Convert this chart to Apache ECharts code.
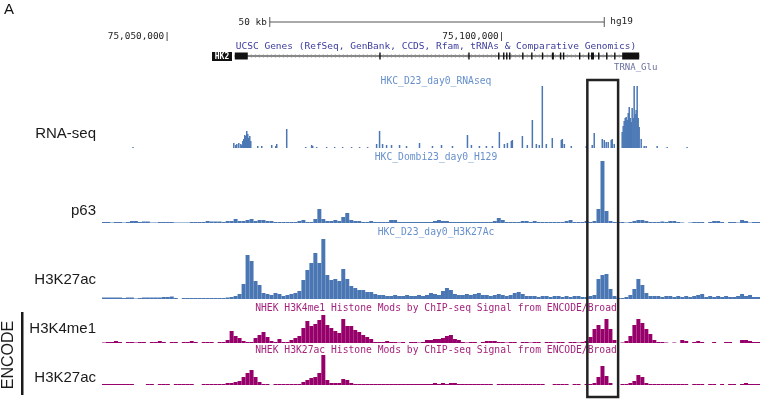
<!DOCTYPE html>
<html>
<head>
<meta charset="utf-8">
<script src="https://cdn.jsdelivr.net/npm/echarts@6/dist/echarts.min.js"></script>
<style>
  html, body { margin: 0; padding: 0; background: #fff; }
  #main { width: 760px; height: 400px; }
</style>
</head>
<body>
<div id="main"></div>
<script>
// browser window on chr10 (hg19), in kb
const viewStartKb = 75039.85;
const viewEndKb = 75138.21;
const rulerTicksKb = [75050, 75100];
const scaleBarKb = [75064.93, 75114.93];
const scaleBarLabel = "50 kb";
const highlightKb = [75112.4, 75117.0];

// HK2 gene model
const geneSpanKb = [75059.70, 75120.15];
const exonsKb = [
  [75059.70, 75061.64], [75081.30, 75081.45], [75094.60, 75094.75], [75099.05, 75099.20],
  [75099.80, 75099.95], [75100.25, 75100.40], [75100.70, 75100.85], [75102.65, 75102.80],
  [75104.00, 75104.15], [75105.60, 75105.80], [75107.10, 75107.40], [75108.30, 75108.45],
  [75108.75, 75108.90], [75111.15, 75111.30], [75112.50, 75112.65], [75112.95, 75113.40],
  [75114.00, 75114.15], [75115.20, 75115.35], [75116.40, 75116.55], [75117.61, 75120.15]
];

// RNA-seq coverage spikes (position kb, signal)
const rnaPosKb = [75044.48,
  75059.55, 75059.85, 75060.00, 75060.30, 75060.60, 75060.75, 75060.90, 75061.04, 75061.19, 75061.34,
  75061.49, 75061.64, 75061.79, 75061.94, 75062.09,
  75063.13, 75063.73, 75065.22, 75065.82, 75065.97, 75067.46,
  75070.30, 75071.19, 75071.34, 75071.94, 75073.43, 75074.63, 75075.82, 75077.16, 75078.36, 75079.55,
  75080.90, 75081.34, 75081.79, 75082.39, 75083.13, 75084.33, 75085.37, 75087.31, 75089.25, 75090.60, 75092.24,
  75094.48, 75095.07, 75096.27, 75097.31, 75098.21, 75099.25,
  75100.00, 75100.45, 75101.04, 75101.19, 75102.69, 75103.43, 75104.18, 75104.78, 75105.22, 75105.67, 75106.27, 75107.16,
  75108.51, 75108.66, 75108.96, 75110.00,
  75112.24, 75113.13, 75113.43, 75114.63, 75114.93, 75115.22, 75115.52, 75115.97, 75116.12, 75116.42,
  75117.61, 75117.76, 75117.91, 75118.06, 75118.21, 75118.36, 75118.51, 75118.66, 75118.81, 75118.96,
  75119.10, 75119.25, 75119.40, 75119.55, 75119.70, 75119.85, 75120.00, 75120.15,
  75120.45, 75120.90, 75121.19, 75122.84, 75124.33, 75127.31];
const rnaValues = [1,
  5, 3, 4, 5, 4, 3, 7, 9, 13, 12, 17, 14, 10, 12, 7,
  2, 2, 3, 2, 4, 19,
  1, 3, 2, 1, 1, 1, 1, 1, 1, 1,
  4, 17, 4, 3, 3, 3, 2, 5, 2, 3, 2,
  13, 3, 2, 2, 2, 16,
  4, 5, 7, 8, 12, 3, 28, 4, 3, 62, 4, 10,
  8, 9, 4, 2,
  2, 3, 15, 9, 8, 6, 6, 8, 9, 4,
  16, 22, 27, 30, 31, 28, 35, 41, 30, 26, 40, 30, 62, 34, 38, 62, 30, 21,
  9, 2, 2, 2, 1, 1];

// binned ChIP-seq signal, 165 equal bins across the window
const p63Values = [
  1, 1, 0.5, 1, 1, 0.5, 1, 2, 2, 1,
  1.5, 1.5, 0.5, 0.5, 1, 1, 1, 1, 0.5, 0.5,
  0.5, 0.5, 1, 1, 1, 1, 2, 1.5, 1.5, 1.5,
  1, 2, 2, 4, 2, 2, 3, 4, 2, 3,
  3, 2, 2, 1, 1, 1, 1, 1, 1, 2,
  3, 1, 1, 4, 14, 4, 2, 2, 3, 2,
  6, 10, 3, 2, 2, 1, 1, 2, 1, 1,
  1, 1, 3, 3, 1, 1, 1, 1, 1, 1,
  1, 1, 1, 2, 3, 2, 2, 1, 1, 1,
  1, 1, 1, 1, 1, 1, 1, 1, 2, 5,
  3, 1, 1, 1, 1, 2, 2, 1, 2, 1,
  1, 1, 1, 1, 1, 1, 2, 3, 1, 1,
  1, 2, 1, 2, 14, 62, 12, 2, 1, 1,
  1, 0.5, 1, 2, 3, 3, 2, 1, 1, 1,
  1.5, 1, 2, 2, 1, 0.5, 0, 0.5, 1, 1,
  1, 0, 1, 2, 2, 1, 0, 1, 1, 0.5,
  3, 2, 0.5, 1, 1];
const h3k27acValues = [
  1.5, 1.5, 1.5, 1.5, 1.5, 1, 1.5, 1.5, 0.5, 1,
  1.5, 1.5, 1.5, 1.5, 1.5, 2, 2, 2.5, 1, 0,
  1, 1, 1, 1, 1, 1, 1, 1, 1, 1,
  1, 1.5, 2, 3, 5, 15, 44, 38, 18, 14,
  6, 5, 4, 6, 5, 3, 4, 5, 6, 8,
  19, 29, 36, 46, 36, 60, 24, 19, 20, 18,
  30, 20, 13, 11, 9, 9, 7, 7, 5, 4,
  4, 3, 3, 4, 3, 3, 4, 3, 3, 4,
  3, 4, 6, 5, 4, 8, 11, 9, 5, 4,
  4, 5, 4, 5, 6, 4, 4, 3, 4, 5,
  4, 3, 4, 6, 7, 5, 3, 3, 3, 2,
  3, 3, 2, 3, 3, 2, 3, 2, 3, 3,
  2, 2, 3, 4, 20, 24, 25, 10, 3, 1,
  1, 2, 4, 10, 20, 14, 6, 3, 3, 3,
  2, 3, 3, 2, 3, 2, 3, 2, 3, 4,
  5, 2, 3, 2, 3, 2, 3, 2, 2, 3,
  5, 3, 4, 2, 2];
const nhekH3k4me1Values = [
  0.5, 1, 1, 2, 1, 0, 1, 1, 0.5, 1,
  1, 0, 1, 1, 2, 1, 0, 1, 1, 0,
  1, 1, 2, 1, 0, 1, 1, 1, 0, 1,
  1, 3, 12, 7, 5, 2, 1, 1, 5, 8,
  11, 6, 2, 1, 4, 1, 1, 3, 5, 7,
  15, 22, 17, 19, 23, 28, 18, 15, 12, 10,
  24, 17, 17, 13, 11, 8, 6, 4, 1, 1,
  1, 2, 1, 1, 0.5, 1, 0, 1, 1, 0.5,
  1, 3, 3, 4, 4, 5, 7, 8, 4, 3,
  1, 0.5, 1, 1, 0, 1, 2, 2, 2, 1,
  1, 0.5, 1, 1, 0, 1, 1, 0.5, 1, 1,
  0, 1, 1, 0.5, 1, 1, 0, 1, 1, 0.5,
  1, 2, 6, 14, 18, 14, 24, 14, 3, 0,
  0.5, 2, 7, 18, 24, 20, 14, 9, 3, 1,
  1, 0.5, 0, 0.5, 0, 3, 2, 0, 1, 2,
  1, 0, 0, 1, 0, 0, 1, 1, 0, 0,
  3, 3, 2, 1, 1];
const nhekH3k27acValues = [
  1, 1, 1, 1, 1, 1, 1, 1, 0, 0,
  0, 1, 1, 0, 1, 1, 1, 0, 1, 1,
  1, 1, 1, 0, 0, 1, 1, 1, 1, 1,
  1, 2, 2, 3, 4, 8, 12, 15, 8, 3,
  1, 1, 0, 1, 1, 1, 1, 1, 1, 1,
  3, 5, 7, 8, 12, 30, 5, 2, 2, 2,
  6, 5, 2, 1, 1, 1, 1, 1, 1, 1,
  1, 1, 1, 1, 1, 1, 1, 1, 1, 1,
  1, 1, 1, 2, 1, 2, 1, 2, 2, 1,
  1, 1, 1, 1, 1, 1, 1, 1, 0, 1,
  1, 1, 1, 1, 1, 1, 1, 1, 1, 1,
  1, 0, 0, 1, 1, 1, 1, 0, 1, 1,
  0, 1, 1, 2, 8, 19, 9, 2, 0, 0,
  1, 1, 2, 4, 10, 8, 2, 1, 1, 1,
  1, 1, 1, 1, 1, 1, 1, 0, 1, 1,
  1, 0, 1, 1, 0, 1, 0, 1, 1, 0,
  1, 2, 1, 1, 1];
const bins = p63Values.map((v, i) => i);

const trackTitles = [
  "UCSC Genes (RefSeq, GenBank, CCDS, Rfam, tRNAs & Comparative Genomics)",
  "HKC_D23_day0_RNAseq",
  "HKC_Dombi23_day0_H129",
  "HKC_D23_day0_H3K27Ac",
  "NHEK H3K4me1 Histone Mods by ChIP-seq Signal from ENCODE/Broad",
  "NHEK H3K27ac Histone Mods by ChIP-seq Signal from ENCODE/Broad"
];
const trackLabels = ["RNA-seq", "p63", "H3K27ac", "H3K4me1", "H3K27ac"];

const BLUE = "#4a77b4";
const BLUE_TITLE = "#6790cb";
const MAGENTA = "#97006b";
const MAGENTA_TITLE = "#a5237c";
const MONO = "DejaVu Sans Mono, monospace";
const SANS = "Liberation Sans, Arial, sans-serif";

const chart = echarts.init(document.getElementById("main"), null, { renderer: "canvas" });

function kbAxis(grid, extra) {
  return Object.assign({
    type: "value", gridIndex: grid, min: viewStartKb, max: viewEndKb, show: false
  }, extra || {});
}
function binAxis(grid) {
  return { type: "category", gridIndex: grid, data: bins, show: false };
}
function yAxis(grid, min, max) {
  return { type: "value", gridIndex: grid, min: min, max: max, show: false };
}
function signalBar(idx, values, color) {
  return {
    type: "bar", xAxisIndex: idx, yAxisIndex: idx, data: values,
    barCategoryGap: "0%", barGap: "0%",
    itemStyle: { color: color }, silent: true
  };
}
function txt(text, x, y, align, font, color, rotation) {
  return {
    type: "text", x: x, y: y, rotation: rotation || 0, silent: true,
    style: {
      text: text, font: font, fill: color,
      align: align, textAlign: align, verticalAlign: "middle", textVerticalAlign: "middle"
    }
  };
}

const option = {
  animation: false,
  backgroundColor: "#fff",
  grid: [
    { left: 102, width: 660, top: 18, height: 8 },    // scale bar
    { left: 102, width: 660, top: 50, height: 12 },   // genes
    { left: 102, width: 660, top: 86, height: 62 },   // RNA-seq
    { left: 102, width: 660, top: 161, height: 62 },  // p63
    { left: 102, width: 660, top: 237, height: 62 },  // H3K27ac
    { left: 102, width: 660, top: 313, height: 30 },  // ENCODE H3K4me1
    { left: 102, width: 660, top: 355, height: 30 }   // ENCODE H3K27ac
  ],
  xAxis: [
    kbAxis(0),
    kbAxis(1, {
      show: true, position: "top",
      axisLine: { show: false }, axisTick: { show: false }, splitLine: { show: false },
      axisLabel: {
        customValues: rulerTicksKb, margin: 9, align: "right",
        color: "#222", fontFamily: MONO, fontSize: 9.4,
        formatter: (v) => Math.round(v * 1000).toLocaleString("en-US") + "|"
      }
    }),
    kbAxis(2),
    binAxis(3), binAxis(4), binAxis(5), binAxis(6)
  ],
  yAxis: [
    yAxis(0, -1, 1), yAxis(1, -1, 1),
    yAxis(2, 0, 62), yAxis(3, 0, 62), yAxis(4, 0, 62),
    yAxis(5, 0, 30), yAxis(6, 0, 30)
  ],
  series: [
    {
      // 50 kb scale bar
      type: "custom", xAxisIndex: 0, yAxisIndex: 0, silent: true,
      data: [scaleBarKb],
      renderItem: function (params, api) {
        const a = api.coord([api.value(0), 0]);
        const b = api.coord([api.value(1), 0]);
        const ln = { stroke: "#555", lineWidth: 1 };
        return {
          type: "group",
          children: [
            { type: "line", shape: { x1: a[0], y1: a[1], x2: b[0], y2: b[1] }, style: ln },
            { type: "line", shape: { x1: a[0], y1: a[1] - 5, x2: a[0], y2: a[1] + 5 }, style: ln },
            { type: "line", shape: { x1: b[0], y1: b[1] - 5, x2: b[0], y2: b[1] + 5 }, style: ln },
            txt(scaleBarLabel, a[0] - 3, a[1] + 1, "right", "9.4px " + MONO, "#222"),
            txt("hg19", b[0] + 6, b[1], "left", "9.4px " + MONO, "#222")
          ]
        };
      }
    },
    {
      // gene backbone
      type: "line", xAxisIndex: 1, yAxisIndex: 1, silent: true, symbol: "none", z: 2,
      data: [[geneSpanKb[0], 0], [geneSpanKb[1], 0]],
      lineStyle: { color: "#111", width: 1 }
    },
    {
      // intron direction hatching
      type: "line", xAxisIndex: 1, yAxisIndex: 1, silent: true, symbol: "none", z: 2,
      data: [[geneSpanKb[0], 0], [geneSpanKb[1], 0]],
      lineStyle: { color: "#8a8a8a", width: 3, type: [1, 3] }
    },
    {
      type: "custom", xAxisIndex: 1, yAxisIndex: 1, silent: true, z: 10,
      data: exonsKb,
      renderItem: function (params, api) {
        const a = api.coord([api.value(0), 0]);
        const b = api.coord([api.value(1), 0]);
        return {
          type: "rect",
          shape: { x: a[0], y: a[1] - 3.5, width: Math.max(b[0] - a[0], 1.4), height: 7 },
          style: { fill: "#111" }
        };
      }
    },
    {
      type: "bar", xAxisIndex: 2, yAxisIndex: 2, silent: true,
      data: rnaPosKb.map((p, i) => [p, rnaValues[i]]),
      barWidth: 1.5, itemStyle: { color: BLUE }
    },
    signalBar(3, p63Values, BLUE),
    signalBar(4, h3k27acValues, BLUE),
    signalBar(5, nhekH3k4me1Values, MAGENTA),
    signalBar(6, nhekH3k27acValues, MAGENTA)
  ]
};
chart.setOption(option);

// texts, labels and the highlighted region
const x0 = chart.convertToPixel({ xAxisIndex: 2 }, highlightKb[0]);
const x1 = chart.convertToPixel({ xAxisIndex: 2 }, highlightKb[1]);
const titleY = [47, 81, 157, 232, 308, 350];
const titleColor = ["#3d3d9e", BLUE_TITLE, BLUE_TITLE, BLUE_TITLE, MAGENTA_TITLE, MAGENTA_TITLE];
const labelY = [134, 211, 280, 329, 378];

const graphics = [txt("A", 4, 10, "left", "15px " + SANS, "#111")];
trackTitles.forEach((t, i) => {
  graphics.push(txt(t, 436, titleY[i], "center", (i === 0 ? "9.5px " : "9.7px ") + MONO, titleColor[i]));
});
trackLabels.forEach((t, i) => {
  graphics.push(txt(t, 96, labelY[i], "right", "15px " + SANS, "#1a1a1a"));
});
graphics.push(
  { type: "rect", silent: true, shape: { x: 212, y: 52, width: 20, height: 9 }, style: { fill: "#111" } },
  txt("HK2", 222, 56.5, "center", "bold 8px " + MONO, "#fff"),
  txt("TRNA_Glu", 614, 68, "left", "9px " + MONO, "#6a6f9c"),
  txt("ENCODE", 9, 355, "center", "16px " + SANS, "#1a1a1a", Math.PI / 2),
  { type: "rect", silent: true, shape: { x: 21, y: 312, width: 2.5, height: 83 }, style: { fill: "#1a1a1a" } },
  {
    type: "rect", silent: true, z: 100,
    shape: { x: x0, y: 80, width: x1 - x0, height: 317 },
    style: { fill: "none", stroke: "#222", lineWidth: 2.5 }
  }
);
chart.setOption({ graphic: graphics });
</script>
</body>
</html>
